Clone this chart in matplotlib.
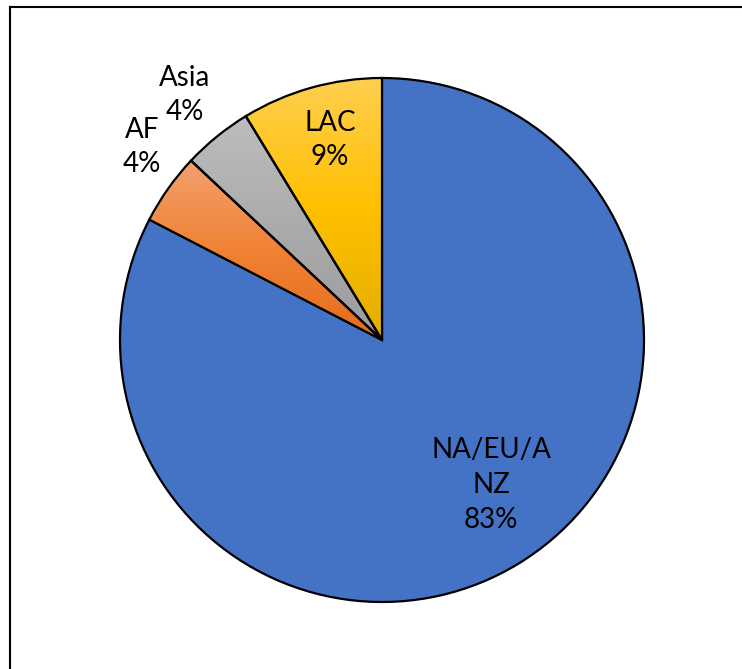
import matplotlib.pyplot as plt
import numpy as np
from matplotlib.colors import LinearSegmentedColormap
from matplotlib.lines import Line2D

# slice data (clockwise from 12 o'clock)
labels = ["NA/EU/A\nNZ", "AF", "Asia", "LAC"]
values = [82.6, 4.4, 4.3, 8.7]
# gradient colours for each slice: (top, middle, bottom)
grads = [
    ("#4472C4", "#4472C4", "#4472C4"),
    ("#F4A070", "#F08233", "#E56C1C"),
    ("#BDBDBD", "#ABABAB", "#9C9C9C"),
    ("#FFCF4F", "#FFC000", "#E2AE00"),
]
# label positions in pixels (x, y from top)
label_pos = [(491, 485), (142, 147), (185, 95), (330, 140)]

W, H = 742, 669
fig = plt.figure(figsize=(W / 100, H / 100), dpi=100)
ax = fig.add_axes([0, 0, 1, 1])

cx, cy, r = 382, H - 340, 262
wedges, _ = ax.pie(
    values, center=(cx, cy), radius=r, startangle=90, counterclock=False,
    colors=[g[1] for g in grads],
    wedgeprops=dict(edgecolor="black", linewidth=1.6), frame=True,
)
ax.set_xlim(0, W)
ax.set_ylim(0, H)
ax.set_aspect("equal")
ax.axis("off")

# vertical gradient fills clipped to each wedge
for w, g in zip(wedges, grads):
    if g[0] == g[2]:
        continue
    bb = w.get_path().get_extents(w.get_transform() - ax.transData)
    cmap = LinearSegmentedColormap.from_list("g", [g[2], g[1], g[0]])
    grad = np.linspace(0, 1, 256).reshape(-1, 1)
    im = ax.imshow(grad, cmap=cmap, origin="lower", aspect="auto",
                   extent=(bb.x0, bb.x1, bb.y0, bb.y1), zorder=w.get_zorder() + 0.1)
    im.set_clip_path(w)
    w.set_facecolor("none")
    w.set_zorder(w.get_zorder() + 0.2)

pcts = [f"{v / sum(values) * 100:.0f}%" for v in values]
for lab, p, (x, y) in zip(labels, pcts, label_pos):
    ax.text(x, H - y, f"{lab}\n{p}", ha="center", va="center", fontsize=20,
            family="Lato", linespacing=1.42, color="black", zorder=5)

# chart frame (right and bottom edges cut off)
fig.add_artist(Line2D([10 / W, 1], [1 - 7 / H, 1 - 7 / H], color="black", lw=1.5))
fig.add_artist(Line2D([10 / W, 10 / W], [0, 1 - 7 / H], color="black", lw=1.5))

fig.savefig("out.png", dpi=100)
